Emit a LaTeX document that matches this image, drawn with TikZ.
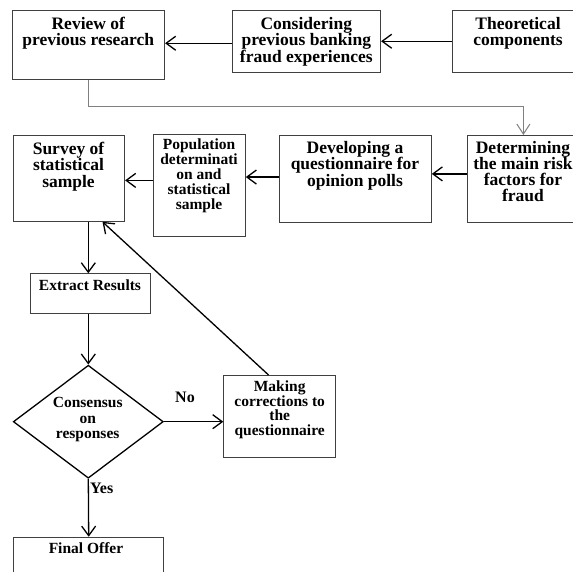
\documentclass[tikz,border=0pt]{standalone}
\usepackage{fontspec}
\setmainfont{Liberation Serif}
\usetikzlibrary{arrows.meta,shapes.geometric}
\newcommand\tightls{\lineskiplimit=-8pt\relax}
\begin{document}
\begin{tikzpicture}[x=1pt,y=-1pt,
  box/.style={draw=black!75, line width=0.8pt, anchor=north west, inner sep=0pt},
  big/.style={font={\fontsize{17.5}{16.5}\selectfont\bfseries\tightls}, align=center, inner sep=0pt, anchor=north},
  small/.style={font={\fontsize{15.5}{15}\selectfont\bfseries\tightls}, align=center, inner sep=0pt, anchor=north},
  lbl/.style={font={\fontsize{16}{16}\selectfont\bfseries}, inner sep=0pt},
  arr/.style={line width=1.3pt, -{Straight Barb[length=9.5pt,width=14pt,line width=1.3pt]}},
  garr/.style={draw=black!50, line width=1pt, -{Straight Barb[length=10pt,width=13pt]}},
]
\useasboundingbox (0,0) rectangle (573,572);
% boxes
\node[box, minimum width=152, minimum height=69.3] (review) at (12.3,10) {};
\node[box, minimum width=148, minimum height=61.7] (cons) at (232.3,10) {};
\node[box, minimum width=132.6, minimum height=61.7] (theo) at (451.7,10) {};
\node[box, minimum width=111, minimum height=86] (survey) at (13.3,135) {};
\node[box, minimum width=92.3, minimum height=102] (pop) at (152.7,134) {};
\node[box, minimum width=152, minimum height=87.3] (dev) at (279,135) {};
\node[box, minimum width=112.6, minimum height=87] (det) at (466.7,135) {};
\node[box, minimum width=120, minimum height=40] (extract) at (30,273.3) {};
\node[draw=black, line width=1.3pt, diamond, minimum width=150, minimum height=113, inner sep=0pt] (dec) at (88.3,421.7) {};
\node[box, minimum width=111.7, minimum height=81.7] (making) at (223.3,375) {};
\node[box, minimum width=150, minimum height=60] (final) at (13.3,536.7) {};
% texts
\node[big] (review-t) at (88.3,16.3) {\rule{0pt}{13pt}Review of\\previous research};
\node[big] (cons-t) at (306.3,16.3) {\rule{0pt}{13pt}Considering\\previous banking\\fraud experiences};
\node[big] (theo-t) at (518,16.3) {\rule{0pt}{13pt}Theoretical\\components};
\node[big] (survey-t) at (68.5,141.3) {\rule{0pt}{13pt}Survey of\\statistical\\sample};
\node[big] (dev-t) at (355,140.3) {\rule{0pt}{13pt}Developing a\\questionnaire for\\opinion polls};
\node[big, font={\fontsize{17.5}{16}\selectfont\bfseries\tightls}] (det-t) at (523,140.3) {\rule{0pt}{13pt}Determining\\the main risk\\factors for\\fraud};
\node[small] (pop-t) at (199,137.8) {\rule{0pt}{11.5pt}Population\\determinati\\on and\\statistical\\sample};
\node[small] (extract-t) at (90,278.5) {\rule{0pt}{11.5pt}Extract Results};
\node[small, font={\fontsize{15.5}{15.5}\selectfont\bfseries\tightls}] (dec-t) at (87.7,395.8) {\rule{0pt}{11.5pt}Consensus\\on\\responses};
\node[small, font={\fontsize{15.5}{14.5}\selectfont\bfseries\tightls}] (making-t) at (279.7,380.2) {\rule{0pt}{11.5pt}Making\\corrections to\\the\\questionnaire};
\node[small] (final-t) at (86,541.8) {\rule{0pt}{11.5pt}Final Offer};
\node[lbl, anchor=base] (no) at (185,402.7) {No};
\node[lbl, anchor=base west] (yes) at (90,493.3) {Yes};
% connectors
\coordinate (grayy) at (0,106.7);
\draw[arr] (theo.west) -- (cons.east);
\draw[arr] ([yshift=-2pt]cons.west) -- ([yshift=-2pt]cons.west -| review.east);
\draw[garr] (review.south) |- (grayy -| det.north) -- (det.north);
\draw[arr] ([yshift=5pt]det.west) -- ([yshift=5pt]det.west -| dev.east);
\draw[arr] ([yshift=2pt]dev.west) -- ([yshift=2pt]dev.west -| pop.east);
\draw[arr] ([yshift=-2pt]survey.east -| pop.west) -- ([yshift=-2pt]survey.east);
\draw[arr] (survey.south -| dec.center) -- (extract.north -| dec.center);
\draw[arr] (extract.south -| dec.center) -- (dec.north);
\draw[arr] (dec.east) -- (dec.east -| making.west);
\draw[arr] (dec.south) -- (final.north);
\draw[arr] ([xshift=-11pt]making.north) -- ([xshift=-22.6pt]survey.south east);
\end{tikzpicture}
\end{document}
